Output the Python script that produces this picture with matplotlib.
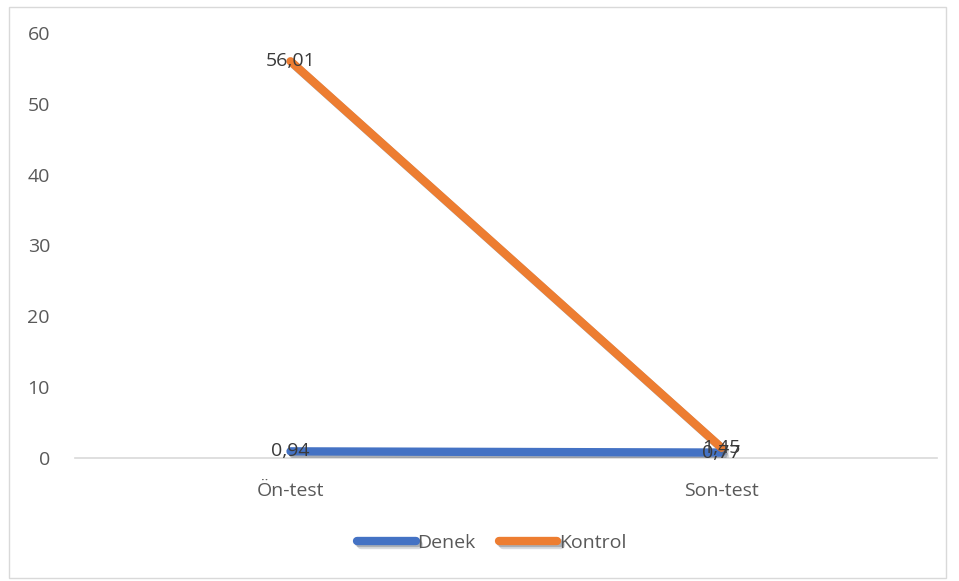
import matplotlib.pyplot as plt
import matplotlib.patheffects as pe
from matplotlib.patches import Rectangle

categories = ['Ön-test', 'Son-test']
denek = [0.94, 0.77]
kontrol = [56.01, 1.45]
series_names = ['Denek', 'Kontrol']
colors = ['#4472C4', '#ED7D31']
yticks = [0, 10, 20, 30, 40, 50, 60]

plt.rcParams['font.family'] = ['Open Sans', 'DejaVu Sans']
fs = 14

fig = plt.figure(figsize=(9.59, 5.81), dpi=100)
ax = fig.add_axes([75 / 959, 1 - 458 / 581, 862 / 959, 425 / 581])

# outer chart border
fig.patches.append(Rectangle((9 / 959, 3 / 581), 937 / 959, 571 / 581,
                             transform=fig.transFigure, fill=False,
                             edgecolor='#d9d9d9', linewidth=1))

x = range(len(categories))
shadow = [pe.SimpleLineShadow(offset=(2.5, -2.5), shadow_color='#6a7080', alpha=0.25),
          pe.SimpleLineShadow(offset=(1.5, -1.5), shadow_color='#555b66', alpha=0.35),
          pe.Normal()]
lines = []
for vals, name, c in zip([denek, kontrol], series_names, colors):
    ln, = ax.plot(x, vals, color=c, linewidth=6, solid_capstyle='round',
                  label=name, path_effects=shadow, zorder=3)
    lines.append(ln)
    for xi, v in zip(x, vals):
        ax.text(xi, v, f'{v:.2f}'.replace('.', ','), ha='center', va='center',
                fontsize=fs, color='#3a3a3a', zorder=4)

ax.set_xlim(-0.5, 1.5)
ax.set_ylim(0, 60)
ax.set_yticks(yticks)
ax.set_xticks(list(x))
ax.set_xticklabels(categories)
ax.tick_params(axis='both', length=0, labelsize=fs, labelcolor='#595959')
ax.tick_params(axis='y', pad=18)
ax.tick_params(axis='x', pad=17)

for s in ['top', 'right', 'left']:
    ax.spines[s].set_visible(False)
ax.spines['bottom'].set_color('#d9d9d9')
ax.spines['bottom'].set_linewidth(1.2)

fig.legend(handles=lines, loc='center', bbox_to_anchor=(492 / 959, 1 - 543 / 581),
           ncol=2, frameon=False, fontsize=fs, labelcolor='#595959',
           handlelength=3.0, handletextpad=0.1, columnspacing=1.2)

fig.savefig('out.png', dpi=100)
